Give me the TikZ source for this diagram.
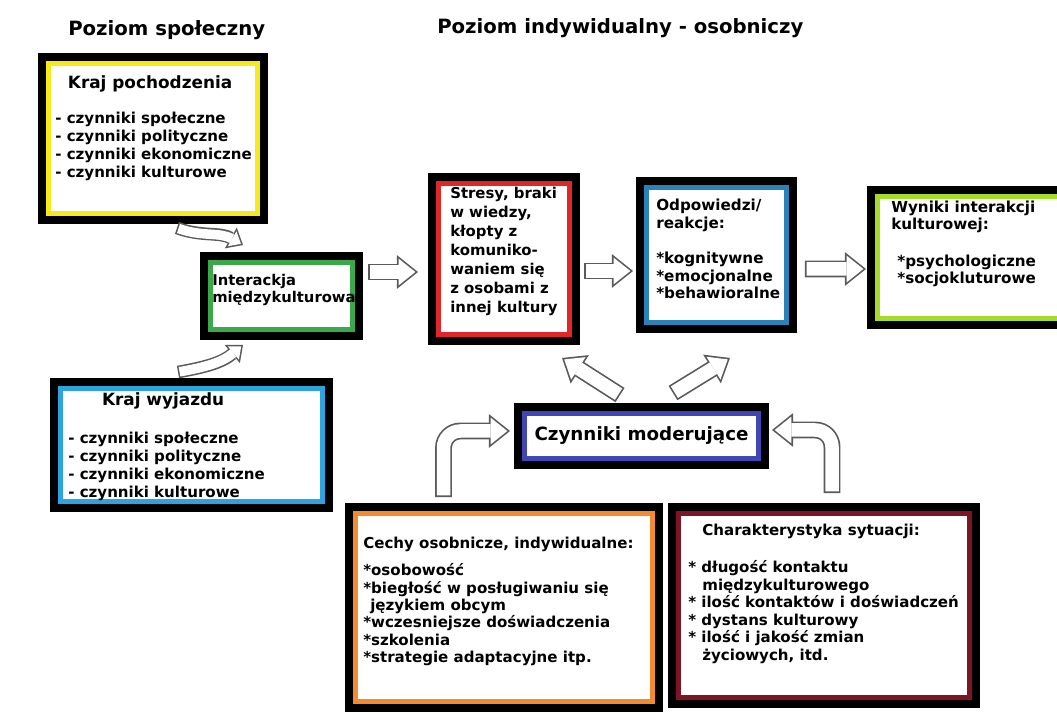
\documentclass[tikz,border=0pt]{standalone}
\usepackage{fontspec}
\setmainfont{DejaVu Sans}
\usetikzlibrary{arrows.meta}

\definecolor{zolty}{HTML}{F7EA1C}
\definecolor{zielony}{HTML}{3BA84A}
\definecolor{blekitny}{HTML}{2EA3DF}
\definecolor{czerwony}{HTML}{E02727}
\definecolor{niebieski}{HTML}{2A82B8}
\definecolor{limonka}{HTML}{A6DA2C}
\definecolor{indygo}{HTML}{4246B4}
\definecolor{pomarancz}{HTML}{F28C2E}
\definecolor{bordo}{HTML}{7E1426}
\definecolor{szary}{HTML}{5A5A5A}

\newcommand{\tytul}{\fontsize{12pt}{12.8pt}\selectfont}

\tikzset{
  ramka/.style={draw=black, line width=5.6pt, fill=white, inner sep=0pt,
    path picture={\draw[#1, line width=3.4pt]
      ([shift={(4.5pt,-4.5pt)}]path picture bounding box.north west) rectangle
      ([shift={(-4.5pt,4.5pt)}]path picture bounding box.south east);}},
  opis/.style={anchor=north west, align=left, inner sep=0pt,
    font=\bfseries\fontsize{10.7pt}{12.8pt}\selectfont},
  naglowek/.style={anchor=base west, inner sep=0pt,
    font=\bfseries\fontsize{14pt}{16pt}\selectfont},
  blok/.style={draw=szary, line width=12pt,
    -{Triangle[length=15pt, width=24pt, line width=0pt]},
    postaction={draw=white, line width=9.6pt,
      -{Triangle[length=11.9pt, width=19pt, line width=0pt]},
      shorten >=1.9pt, shorten <=1.2pt}},
  blokmaly/.style={draw=szary, line width=9pt,
    -{Triangle[length=10pt, width=17pt, line width=0pt]},
    postaction={draw=white, line width=6.8pt,
      -{Triangle[length=7.2pt, width=12.2pt, line width=0pt]},
      shorten >=1.7pt, shorten <=1.1pt}}
}

\begin{document}
\begin{tikzpicture}[x=0.025cm, y=-0.025cm]
  \path[use as bounding box] (0,0) rectangle (1057,720);
  \clip (0,0) rectangle (1057,720);

  \node[naglowek] (spol) at (68,36) {Poziom społeczny};
  \node[naglowek] (indyw) at (437,34) {Poziom indywidualny - osobniczy};

  \node[ramka=zolty, minimum width=5.55cm, minimum height=4.075cm] (poch) at (153,138.5) {};
  \node[ramka=zielony, minimum width=3.875cm, minimum height=2.0cm] (inter) at (281.5,296) {};
  \node[ramka=blekitny, minimum width=6.875cm, minimum height=3.15cm] (wyj) at (191.5,445) {};
  \node[ramka=czerwony, minimum width=3.6cm, minimum height=4.1cm] (stres) at (504,259) {};
  \node[ramka=niebieski, minimum width=3.825cm, minimum height=3.7cm] (odp) at (716.5,255) {};
  \node[ramka=limonka, minimum width=5.0cm, minimum height=3.375cm] (wyn) at (971,257.5) {};
  \node[ramka=indygo, minimum width=6.175cm, minimum height=1.45cm,
    font=\bfseries\fontsize{13pt}{15pt}\selectfont] (czyn) at (641.5,436) {Czynniki moderujące};
  \node[ramka=pomarancz, minimum width=7.75cm, minimum height=5.025cm] (cechy) at (504,607.5) {};
  \node[ramka=bordo, minimum width=7.6cm, minimum height=4.925cm] (syt) at (824,605.5) {};

  \node[opis] (tpoch) at (55,75.5) {\hspace*{9pt}{\tytul Kraj pochodzenia}\\[11.7pt]- czynniki społeczne\\- czynniki polityczne\\- czynniki ekonomiczne\\- czynniki kulturowe};
  \node[opis, font=\bfseries\fontsize{10.5pt}{12pt}\selectfont] (tinter) at (212,274) {Interackja\\międzykulturowa};
  \node[opis] (twyj) at (68,392.5) {\hspace*{24pt}{\tytul Kraj wyjazdu}\\[13.8pt]- czynniki społeczne\\- czynniki polityczne\\- czynniki ekonomiczne\\- czynniki kulturowe};
  \node[opis, font=\bfseries\fontsize{10.6pt}{13.5pt}\selectfont] (tstres) at (450,187) {Stresy, braki\\w wiedzy,\\kłopty z\\komuniko-\\waniem się\\z osobami z\\innej kultury};
  \node[opis, font=\bfseries\fontsize{10.8pt}{12.6pt}\selectfont] (todp) at (656,199) {Odpowiedzi/\\reakcje:\\[12.2pt]{}*kognitywne\\{}*emocjonalne\\{}*behawioralne};
  \node[opis, font=\bfseries\fontsize{10.8pt}{12.2pt}\selectfont] (twyn) at (891,201) {Wyniki interakcji\\kulturowej:\\[13.8pt]\hspace*{4.3pt}*psychologiczne\\\hspace*{4.3pt}*socjokluturowe};
  \node[opis, font=\bfseries\fontsize{10.7pt}{12.4pt}\selectfont] (tcechy) at (363,537) {Cechy osobnicze, indywidualne:\\[6.7pt]{}*osobowość\\{}*biegłość w posługiwaniu się\\\hspace*{5pt}językiem obcym\\{}*wczesniejsze doświadczenia\\{}*szkolenia\\{}*strategie adaptacyjne itp.};
  \node[opis, font=\bfseries\fontsize{10.7pt}{12.5pt}\selectfont] (tsyt) at (688,524) {\hspace*{10pt}Charakterystyka sytuacji:\\[13.7pt]{}* długość kontaktu\\\hspace*{10pt}międzykulturowego\\{}* ilość kontaktów i doświadczeń\\{}* dystans kulturowy\\{}* ilość i jakość zmian\\\hspace*{10pt}życiowych, itd.};

  \draw[blokmaly] ([shift={(24,4)}]poch.south) to[out=-20, in=150] ([shift={(-38.5,-7)}]inter.north);
  \draw[blokmaly] ([shift={(-13.5,-6)}]wyj.north) to[out=10, in=-140] ([shift={(-38.5,5)}]inter.south);
  \draw[blok] ([shift={(5,-24)}]inter.east) -- ([shift={(-10,13)}]stres.west);
  \draw[blok] ([shift={(4,12)}]stres.east) -- ([shift={(-3,16)}]odp.west);
  \draw[blok] ([shift={(8,14)}]odp.east) -- ([shift={(-1,11.5)}]wyn.west);
  \draw[blok] ([shift={(-21.5,-8)}]czyn.north) -- ([shift={(58,13)}]stres.south);
  \draw[blok] ([shift={(31.5,-10)}]czyn.north) -- ([shift={(13.5,25)}]odp.south);
  \draw[blok, rounded corners=12pt] ([shift={(-60.5,-6)}]cechy.north) |- ([shift={(-4,-5)}]czyn.west);
  \draw[blok, rounded corners=12pt] ([shift={(8,-10)}]syt.north) |- ([shift={(3,-6)}]czyn.east);
\end{tikzpicture}
\end{document}
